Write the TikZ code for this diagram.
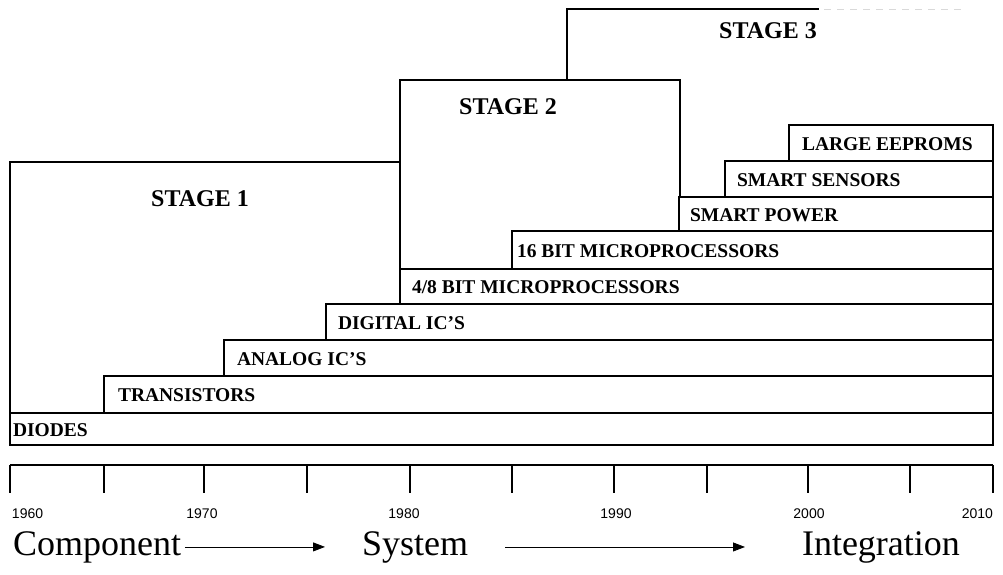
\documentclass[tikz,border=0pt]{standalone}
\usepackage{fontspec}
\setmainfont{Liberation Serif}
\newfontfamily\yearfont{Liberation Sans}
\usepackage{tikz}
\usetikzlibrary{arrows.meta, positioning}

\begin{document}
\begin{tikzpicture}[
        x=1pt, y=-1pt,
        every node/.style={outer sep=0pt, inner sep=0pt},
        % contorno grueso que marca cada etapa
        stageline/.style={line width=2.6pt, line join=miter, line cap=rect},
        bar/.style={draw, line width=1.1pt},
        barlabel/.style={anchor=base west, font=\fontsize{19.5}{21}\selectfont\bfseries},
        stagelabel/.style={font=\fontsize{24}{26}\selectfont\bfseries},
        axisline/.style={line width=1.6pt},
        yearlabel/.style={anchor=base, font=\yearfont\fontsize{14}{16}\selectfont},
        eralabel/.style={anchor=base west, font=\fontsize{36}{40}\selectfont},
        flow/.style={-{Triangle[length=12pt, width=9pt]}, line width=0.8pt}
    ]
        \useasboundingbox (0,0) rectangle (1003,574);

        % barras (de abajo hacia arriba), todas terminan en 2010
        \draw[bar] (10,413)  rectangle (993,445);
        \draw[bar] (104,376) rectangle (993,413);
        \draw[bar] (224,340) rectangle (993,376);
        \draw[bar] (326,304) rectangle (993,340);
        \draw[bar] (400,269) rectangle (993,304);
        \draw[bar] (512,231) rectangle (993,269);
        \draw[bar] (679,197) rectangle (993,231);
        \draw[bar] (725,161) rectangle (993,197);
        \draw[bar] (789,125) rectangle (993,161);

        \node[barlabel] (diodes)  at (13,436)  {DIODES};
        \node[barlabel] (trans)   at (118,401) {TRANSISTORS};
        \node[barlabel] (analog)  at (237,365) {ANALOG IC'S};
        \node[barlabel] (digital) at (338,329) {DIGITAL IC'S};
        \node[barlabel] (micro48) at (412,293) {4/8 BIT MICROPROCESSORS};
        \node[barlabel] (micro16) at (517,257) {16 BIT MICROPROCESSORS};
        \node[barlabel] (spower)  at (690,221) {SMART POWER};
        \node[barlabel] (ssensor) at (737,186) {SMART SENSORS};
        \node[barlabel] (eeprom)  at (802,150) {LARGE EEPROMS};

        % etapas
        \draw[stageline] (10,445) -- (10,162) -- (400,162);
        \draw[stageline] (400,269) -- (400,80) -- (680,80) -- (680,197);
        \draw[stageline] (567,80) -- (567,9) -- (818,9);
        \draw[gray!30, line width=0.8pt, dash pattern=on 7pt off 6pt] (824,9) -- (963,9);

        \node[stagelabel] (st1) at (200,199) {STAGE 1};
        \node[stagelabel] (st2) at (508,107) {STAGE 2};
        \node[stagelabel] (st3) at (768,31)  {STAGE 3};

        % eje de tiempo
        \draw[axisline] (10,465) -- (993,465)
            (10,465) -- (10,493)   (104,465) -- (104,493) (204,465) -- (204,493)
            (307,465) -- (307,493) (410,465) -- (410,493) (512,465) -- (512,493)
            (614,465) -- (614,493) (707,465) -- (707,493) (808,465) -- (808,493)
            (910,465) -- (910,493) (993,465) -- (993,493);

        \node[yearlabel, anchor=base west] (y60) at (12,518)  {1960};
        \node[yearlabel] (y70) at (202,518) {1970};
        \node[yearlabel] (y80) at (404,518) {1980};
        \node[yearlabel] (y90) at (616,518) {1990};
        \node[yearlabel] (y00) at (809,518) {2000};
        \node[yearlabel, anchor=base east] (y10) at (993,518) {2010};

        \node[eralabel] (comp)  at (13,555)  {Component};
        \node[eralabel] (sys)   at (362,555) {System};
        \node[eralabel] (integ) at (802,555) {Integration};

        \draw[flow] ([xshift=4pt]comp.east) -- ([xshift=-37pt]comp.east -| sys.west);
        \draw[flow] ([xshift=37pt]sys.east) -- ([xshift=-57pt]sys.east -| integ.west);
    \end{tikzpicture}
\end{document}
